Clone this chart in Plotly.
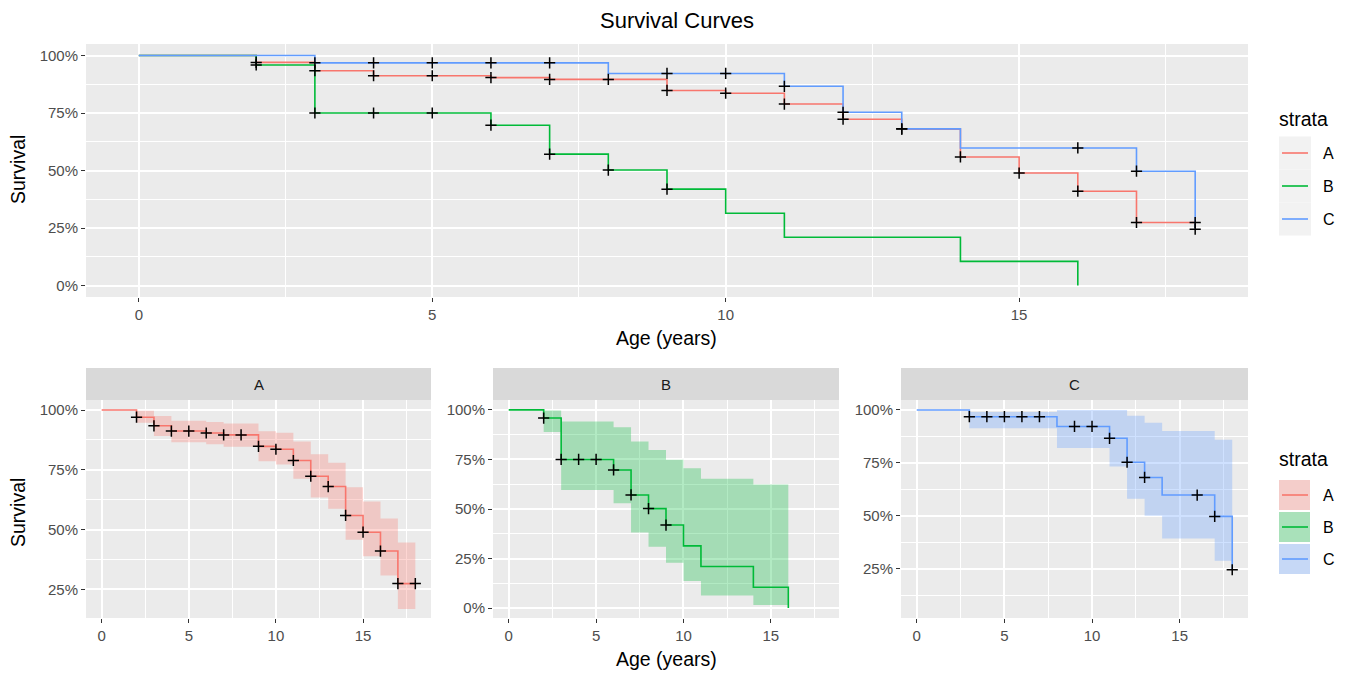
import plotly.graph_objects as go

# ---------------- data ----------------
groups = ["A", "B", "C"]
colors = {"A": "#F8766D", "B": "#00BA38", "C": "#619CFF"}
fills = {"A": "rgba(248,118,109,0.30)", "B": "rgba(0,186,56,0.30)", "C": "rgba(97,156,255,0.30)"}

time_A = [0, 1, 2, 3, 4, 5, 6, 7, 8, 9, 10, 11, 12, 13, 14, 15, 16, 17, 18]
surv_A = [1.0, 1.0, 0.970, 0.934, 0.912, 0.912, 0.904, 0.896, 0.896, 0.848, 0.836, 0.789, 0.723, 0.680, 0.559, 0.489, 0.410, 0.274, 0.274]
upper_A = [1.0, 1.0, 0.997, 0.975, 0.955, 0.955, 0.950, 0.944, 0.944, 0.911, 0.905, 0.868, 0.815, 0.780, 0.677, 0.617, 0.546, 0.446, 0.446]
lower_A = [1.0, 1.0, 0.947, 0.891, 0.865, 0.865, 0.857, 0.846, 0.846, 0.786, 0.772, 0.713, 0.634, 0.587, 0.457, 0.388, 0.308, 0.168, 0.168]
censor_A = [2, 3, 4, 5, 6, 7, 8, 9, 10, 11, 12, 13, 14, 15, 16, 17, 18]

time_B = [0, 1, 2, 3, 4, 5, 6, 7, 8, 9, 10, 11, 12, 13, 14, 15, 16]
surv_B = [1.0, 1.0, 0.959, 0.750, 0.750, 0.750, 0.697, 0.571, 0.502, 0.419, 0.314, 0.210, 0.210, 0.210, 0.105, 0.105, 0.0]
upper_B = [1.0, 1.0, 0.997, 0.942, 0.942, 0.942, 0.913, 0.840, 0.798, 0.748, 0.706, 0.653, 0.653, 0.653, 0.623, 0.623, 0.623]
lower_B = [1.0, 1.0, 0.888, 0.596, 0.596, 0.596, 0.529, 0.382, 0.310, 0.229, 0.137, 0.063, 0.063, 0.063, 0.015, 0.015, 0.015]
censor_B = [2, 3, 4, 5, 6, 7, 8, 9]

time_C = [0, 1, 2, 3, 4, 5, 6, 7, 8, 9, 10, 11, 12, 13, 14, 15, 16, 17, 18]
surv_C = [1.0, 1.0, 1.0, 0.968, 0.968, 0.968, 0.968, 0.968, 0.922, 0.922, 0.922, 0.866, 0.753, 0.681, 0.598, 0.598, 0.598, 0.497, 0.245]
upper_C = [1.0, 1.0, 1.0, 0.990, 0.990, 0.990, 0.990, 0.990, 1.0, 1.0, 1.0, 1.0, 0.972, 0.940, 0.900, 0.900, 0.900, 0.859, 0.859]
lower_C = [1.0, 1.0, 1.0, 0.914, 0.914, 0.914, 0.914, 0.914, 0.820, 0.820, 0.820, 0.733, 0.581, 0.500, 0.393, 0.393, 0.393, 0.288, 0.288]
censor_C = [3, 4, 5, 6, 7, 9, 10, 11, 12, 13, 16, 17, 18]

data = {
    "A": (time_A, surv_A, upper_A, lower_A, censor_A),
    "B": (time_B, surv_B, upper_B, lower_B, censor_B),
    "C": (time_C, surv_C, upper_C, lower_C, censor_C),
}

x_ticks = [0, 5, 10, 15]
y_ticks = [0, 0.25, 0.5, 0.75, 1.0]

title_text = "Survival Curves"
x_title = "Age (years)"
y_title = "Survival"
legend_title = "strata"

# ---------------- figure ----------------
W, H = 1345, 674
FONT = "Liberation Sans, Arial, sans-serif"
TICK_SIZE = 15
AXT_SIZE = 19.5
fig = go.Figure()

def px_x(p):
    return p / W

def px_y(p):
    return 1 - p / H

def censor_vals(t, s, c):
    return [s[t.index(ct)] for ct in c]

MARK = dict(symbol="cross-thin", size=8, line=dict(color="black", width=1.5))

# top panel
for g in groups:
    t, s, u, l, c = data[g]
    fig.add_trace(go.Scatter(x=t, y=s, mode="lines", line=dict(color=colors[g], width=1.6, shape="hv"),
                             xaxis="x", yaxis="y", showlegend=False, hoverinfo="skip"))
for g in groups:
    t, s, u, l, c = data[g]
    fig.add_trace(go.Scatter(x=c, y=censor_vals(t, s, c), mode="markers", marker=MARK,
                             xaxis="x", yaxis="y", showlegend=False, hoverinfo="skip"))

# facet panels
for i, g in enumerate(groups):
    ax = str(i + 2)
    t, s, u, l, c = data[g]
    fig.add_trace(go.Scatter(x=t, y=l, mode="lines", line=dict(width=0, shape="hv"),
                             xaxis="x" + ax, yaxis="y" + ax, showlegend=False, hoverinfo="skip"))
    fig.add_trace(go.Scatter(x=t, y=u, mode="lines", line=dict(width=0, shape="hv"), fill="tonexty",
                             fillcolor=fills[g], xaxis="x" + ax, yaxis="y" + ax, showlegend=False, hoverinfo="skip"))
    fig.add_trace(go.Scatter(x=t, y=s, mode="lines", line=dict(color=colors[g], width=1.6, shape="hv"),
                             xaxis="x" + ax, yaxis="y" + ax, showlegend=False, hoverinfo="skip"))
    fig.add_trace(go.Scatter(x=c, y=censor_vals(t, s, c), mode="markers", marker=MARK,
                             xaxis="x" + ax, yaxis="y" + ax, showlegend=False, hoverinfo="skip"))

common_x = dict(range=[-0.9, 18.9], tickvals=x_ticks, ticks="outside", ticklen=4, tickcolor="#333333",
                tickwidth=1, showgrid=True, gridcolor="white", gridwidth=1.5, zeroline=False,
                tickfont=dict(family=FONT, size=TICK_SIZE, color="#4D4D4D"),
                minor=dict(dtick=2.5, tick0=0, showgrid=True, gridcolor="white", gridwidth=0.7, ticklen=0),
                fixedrange=True)
common_y = dict(tickvals=y_ticks, tickformat=".0%", ticks="outside", ticklen=4, tickcolor="#333333",
                tickwidth=1, showgrid=True, gridcolor="white", gridwidth=1.5, zeroline=False,
                tickfont=dict(family=FONT, size=TICK_SIZE, color="#4D4D4D"),
                minor=dict(dtick=0.125, tick0=0, showgrid=True, gridcolor="white", gridwidth=0.7, ticklen=0),
                fixedrange=True)

top_dom_y = [px_y(297), px_y(44)]
bot_dom_y = [px_y(618), px_y(400)]
panels_x = [(86, 431), (493, 839), (901, 1248)]
y_ranges = [[0.13, 1.042], [-0.05, 1.05], [0.017, 1.047]]

layout = dict(
    width=W, height=H, margin=dict(l=0, r=0, t=0, b=0),
    paper_bgcolor="white", plot_bgcolor="#EBEBEB", showlegend=False,
    xaxis=dict(common_x, domain=[px_x(86), px_x(1248)], anchor="y"),
    yaxis=dict(common_y, domain=top_dom_y, anchor="x", range=[-0.05, 1.05]),
)
for i in range(3):
    ax = str(i + 2)
    layout["xaxis" + ax] = dict(common_x, domain=[px_x(panels_x[i][0]), px_x(panels_x[i][1])], anchor="y" + ax)
    layout["yaxis" + ax] = dict(common_y, domain=bot_dom_y, anchor="x" + ax, range=y_ranges[i])
fig.update_layout(**layout)

shapes = []
annotations = []

# strips
for i, g in enumerate(groups):
    x0, x1 = panels_x[i]
    shapes.append(dict(type="rect", xref="paper", yref="paper", x0=px_x(x0), x1=px_x(x1),
                       y0=px_y(400), y1=px_y(368), fillcolor="#D9D9D9", line=dict(width=0), layer="below"))
    annotations.append(dict(text=g, xref="paper", yref="paper", x=px_x((x0 + x1) / 2), y=px_y(384),
                            showarrow=False, xanchor="center", yanchor="middle",
                            font=dict(family=FONT, size=TICK_SIZE, color="#1A1A1A")))

# titles
annotations.append(dict(text=title_text, xref="paper", yref="paper", x=px_x(677), y=px_y(20), showarrow=False,
                        xanchor="center", yanchor="middle", font=dict(family=FONT, size=22, color="black")))
for yy in (338, 659):
    annotations.append(dict(text=x_title, xref="paper", yref="paper", x=px_x(666), y=px_y(yy), showarrow=False,
                            xanchor="center", yanchor="middle", font=dict(family=FONT, size=AXT_SIZE, color="black")))
for yy in (170, 513):
    annotations.append(dict(text=y_title, xref="paper", yref="paper", x=px_x(18), y=px_y(yy), showarrow=False,
                            textangle=-90, xanchor="center", yanchor="middle",
                            font=dict(family=FONT, size=AXT_SIZE, color="black")))

# legends (drawn manually to mimic ggplot keys)
def draw_legend(title_y, row_centers, with_fill):
    annotations.append(dict(text=legend_title, xref="paper", yref="paper", x=px_x(1277), y=px_y(title_y),
                            showarrow=False, xanchor="left", yanchor="middle",
                            font=dict(family=FONT, size=AXT_SIZE, color="black")))
    for g, cy in zip(groups, row_centers):
        if with_fill:
            shapes.append(dict(type="rect", xref="paper", yref="paper", x0=px_x(1279), x1=px_x(1310),
                               y0=px_y(cy + 15), y1=px_y(cy - 15), fillcolor="#F2F2F2", line=dict(width=0)))
            shapes.append(dict(type="rect", xref="paper", yref="paper", x0=px_x(1279), x1=px_x(1310),
                               y0=px_y(cy + 15), y1=px_y(cy - 15), fillcolor=fills[g], line=dict(width=0)))
        else:
            shapes.append(dict(type="rect", xref="paper", yref="paper", x0=px_x(1279), x1=px_x(1311),
                               y0=px_y(cy + 16.5), y1=px_y(cy - 16.5), fillcolor="#F2F2F2", line=dict(width=0)))
        shapes.append(dict(type="line", xref="paper", yref="paper", x0=px_x(1282), x1=px_x(1308),
                           y0=px_y(cy), y1=px_y(cy), line=dict(color=colors[g], width=1.6)))
        annotations.append(dict(text=g, xref="paper", yref="paper", x=px_x(1321), y=px_y(cy),
                                showarrow=False, xanchor="left", yanchor="middle",
                                font=dict(family=FONT, size=TICK_SIZE + 1, color="black")))

draw_legend(119, [153, 186, 219], False)
draw_legend(459, [495, 527, 559], True)

fig.update_layout(shapes=shapes, annotations=annotations)
fig.write_html("out.html", config={"displayModeBar": False},
               post_script="document.body.style.margin='0';document.body.style.overflow='hidden';")
